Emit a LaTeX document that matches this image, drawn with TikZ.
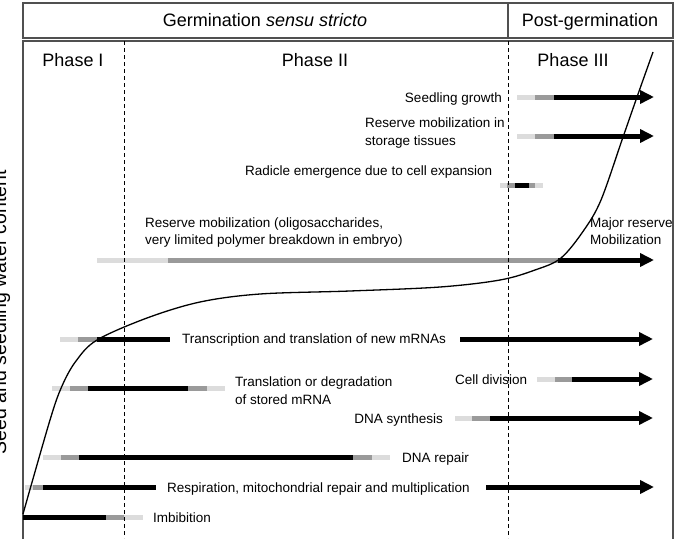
\documentclass[tikz,border=0pt]{standalone}
\usepackage{fontspec}
\setmainfont{Liberation Sans}
\usetikzlibrary{arrows.meta}
\definecolor{lightg}{HTML}{DCDCDC}
\definecolor{midg}{HTML}{9A9A9A}
\definecolor{frameg}{HTML}{505050}
\begin{document}
\begin{tikzpicture}[x=1pt,y=-1pt,
  bar/.style={line width=5pt},
  lt/.style={bar,draw=lightg},
  md/.style={bar,draw=midg},
  bk/.style={bar,draw=black},
  arr/.style={bk,-{Triangle[length=14pt,width=13pt]}},
  lbl/.style={font=\fontsize{13.5}{16}\selectfont, inner sep=0pt, anchor=base west},
  lblr/.style={lbl, anchor=base east},
  hdr/.style={font=\fontsize{18}{22}\selectfont, inner sep=0pt, anchor=base},
  frame/.style={draw=frameg, line width=1.6pt},
  phase/.style={draw=black, line width=1pt, dash pattern=on 4pt off 3pt},
  curve/.style={draw=black, line width=1.3pt}]
\useasboundingbox (0,0) rectangle (679,538);

% frame
\coordinate (hTL) at (23,3);
\coordinate (hBR) at (673,38);
\coordinate (hdT) at (508,3);
\coordinate (hdB) at (508,38);
\coordinate (mBL) at (23,545);
\coordinate (mTL) at (23,41);
\coordinate (mTR) at (673,41);
\coordinate (mBR) at (673,545);
\draw[frame] (hTL) rectangle (hBR);
\draw[frame] (hdT) -- (hdB);
\draw[frame] (mBL) -- (mTL) -- (mTR) -- (mBR);

% headers
\node[hdr] (germ) at (265,26) {Germination \textit{sensu stricto}};
\node[hdr] (post) at (590,26) {Post-germination};
\node[hdr] (ph1) at (73,66) {Phase I};
\node[hdr] (ph2) at (315,66) {Phase II};
\node[hdr] (ph3) at (573,66) {Phase III};

% y label
\node[rotate=90, anchor=base, inner sep=0pt, font=\fontsize{19.5}{22}\selectfont] (ylab) at (6,312) {Seed and seedling water content};

% bars
% Seedling growth
\draw[lt] (517,97) -- (535,97);
\draw[md] (535,97) -- (554,97);
\draw[arr] (554,97) -- (654,97);
% storage tissues
\draw[lt] (517,136) -- (535,136);
\draw[md] (535,136) -- (554,136);
\draw[arr] (554,136) -- (654,136);
% radicle
\draw[lt] (500,185) -- (507,185);
\draw[md] (507,185) -- (515,185);
\draw[bk] (515,185) -- (529,185);
\draw[md] (529,185) -- (535,185);
\draw[lt] (535,185) -- (543,185);
% reserve mobilization
\draw[lt] (97,260) -- (168,260);
\draw[md] (168,260) -- (558,260);
\draw[arr] (558,260) -- (654,260);
% transcription
\draw[lt] (60,339) -- (78,339);
\draw[md] (78,339) -- (97,339);
\draw[bk] (97,339) -- (170,339);
\draw[arr] (460,339) -- (653,339);
% translation stored
\draw[lt] (52,388) -- (70,388);
\draw[md] (70,388) -- (88,388);
\draw[bk] (88,388) -- (188,388);
\draw[md] (188,388) -- (207,388);
\draw[lt] (207,388) -- (225,388);
% cell division
\draw[lt] (537,379) -- (555,379);
\draw[md] (555,379) -- (572,379);
\draw[arr] (572,379) -- (653,379);
% DNA synthesis
\draw[lt] (455,418) -- (472,418);
\draw[md] (472,418) -- (490,418);
\draw[arr] (490,418) -- (653,418);
% DNA repair
\draw[lt] (43,457) -- (61,457);
\draw[md] (61,457) -- (79,457);
\draw[bk] (79,457) -- (353,457);
\draw[md] (353,457) -- (372,457);
\draw[lt] (372,457) -- (390,457);
% respiration
\draw[lt] (25,487) -- (33,487);
\draw[md] (33,487) -- (43,487);
\draw[bk] (43,487) -- (156,487);
\draw[arr] (486,487) -- (654,487);
% imbibition
\draw[bk] (23,517) -- (106,517);
\draw[md] (106,517) -- (124,517);
\draw[lt] (124,517) -- (143,517);

% labels
\node[lblr] (t1) at (502,102) {Seedling growth};
\node[lbl] (t2a) at (365,127) {Reserve mobilization in};
\node[lbl] (t2b) at (365,145) {storage tissues};
\node[lbl] (t3) at (245,175) {Radicle emergence due to cell expansion};
\node[lbl] (t4a) at (145,227) {Reserve mobilization (oligosaccharides,};
\node[lbl] (t4b) at (145,244) {very limited polymer breakdown in embryo)};
\node[lbl] (t5a) at (590,227) {Major reserve};
\node[lbl] (t5b) at (590,244) {Mobilization};
\node[lbl] (t6) at (182,343) {Transcription and translation of new mRNAs};
\node[lbl] (t7a) at (235,386) {Translation or degradation};
\node[lbl] (t7b) at (235,404) {of stored mRNA};
\node[lbl] (t8) at (455,384) {Cell division};
\node[lblr] (t9) at (443,423) {DNA synthesis};
\node[lbl] (t10) at (402,462) {DNA repair};
\node[lbl] (t11) at (167,492) {Respiration, mitochondrial repair and multiplication};
\node[lbl] (t12) at (153,522) {Imbibition};

% water uptake curve
\draw[curve] plot[smooth, tension=0.55] coordinates {(23,514) (50,420) (62,386) (76,361) (97,340) (147,318) (200,302) (260,294) (350,291) (440,287) (500,280) (535,270) (561,258) (584,230) (601,200) (622,140) (637,97) (653,52)};

% phase boundaries
\coordinate (d1t) at (124,41);
\coordinate (d1b) at (124,538);
\coordinate (d2t) at (508,41);
\coordinate (d2b) at (508,538);
\draw[phase] (d1t) -- (d1b);
\draw[phase] (d2t) -- (d2b);
\end{tikzpicture}
\end{document}
